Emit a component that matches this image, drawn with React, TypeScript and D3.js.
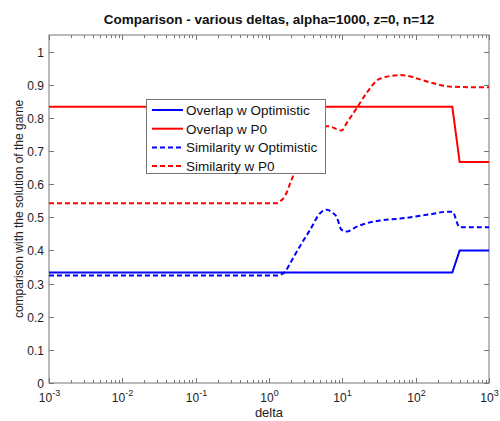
import * as d3 from 'd3';
import React from 'react';

// values
const overlapDelta = [0.001, 316, 398, 1000];
const overlapOptimistic = [0.3333, 0.3333, 0.4, 0.4];
const overlapP0 = [0.8333, 0.8333, 0.6667, 0.6667];

const simDelta = [0.001, 1.26, 1.41, 1.66, 1.95, 2.63, 3.63, 5.01, 6.17, 7.24, 8.32, 9.77, 11.5, 15.8, 21.4, 32.4, 61.7, 158, 275, 316, 398, 1000];
const simOptimistic = [0.324, 0.324, 0.326, 0.336, 0.362, 0.412, 0.462, 0.513, 0.523, 0.515, 0.502, 0.462, 0.457, 0.472, 0.482, 0.490, 0.496, 0.509, 0.517, 0.517, 0.470, 0.470];
const simP0 = [0.542, 0.542, 0.548, 0.565, 0.603, 0.675, 0.730, 0.768, 0.775, 0.772, 0.766, 0.762, 0.785, 0.830, 0.875, 0.918, 0.929, 0.907, 0.895, 0.894, 0.893, 0.892];

const xTickExp = [-3, -2, -1, 0, 1, 2, 3];
const yTicks = [0, 0.1, 0.2, 0.3, 0.4, 0.5, 0.6, 0.7, 0.8, 0.9, 1];

const legendItems = [
  { label: 'Overlap w Optimistic', color: '#0000ff', dash: '' },
  { label: 'Overlap w P0', color: '#ff0000', dash: '' },
  { label: 'Similarity w Optimistic', color: '#0000ff', dash: '5,3' },
  { label: 'Similarity w P0', color: '#ff0000', dash: '5,3' },
];

export default function App() {
  const width = 500;
  const height = 421;
  const left = 49, right = 489, top = 35, bottom = 383;

  const x = d3.scaleLog().domain([1e-3, 1e3]).range([left, right]);
  const y = d3.scaleLinear().domain([0, 1.05]).range([bottom, top]);

  const straight = d3.line<[number, number]>().x(d => x(d[0])).y(d => y(d[1]));
  const smooth = d3.line<[number, number]>().x(d => x(d[0])).y(d => y(d[1])).curve(d3.curveMonotoneX);

  const zip = (xs: number[], ys: number[]) => xs.map((v, i) => [v, ys[i]] as [number, number]);

  const minor: number[] = [];
  for (let e = -3; e < 3; e++) {
    for (let m = 2; m <= 9; m++) minor.push(m * Math.pow(10, e));
  }

  const font = 'Arial, "Liberation Sans", Helvetica, sans-serif';
  const axisColor = '#777';

  return (
    <svg width={width} height={height} style={{ position: 'absolute', left: 0, top: 0, background: '#fff' }} fontFamily={font}>
      <rect x={left} y={top} width={right - left} height={bottom - top} fill="#fff" stroke={axisColor} strokeWidth={1} />

      {/* x ticks */}
      {xTickExp.map(e => {
        const px = Math.round(x(Math.pow(10, e))) + 0.5;
        return (
          <g key={'xt' + e}>
            <line x1={px} x2={px} y1={bottom} y2={bottom - 5} stroke={axisColor} />
            <line x1={px} x2={px} y1={top} y2={top + 5} stroke={axisColor} />
            <text x={px} y={402} fontSize={12} textAnchor="middle" fill="#222">
              10<tspan fontSize={9} dy={-6}>{e}</tspan>
            </text>
          </g>
        );
      })}
      {minor.map((m, i) => {
        const px = Math.round(x(m)) + 0.5;
        return (
          <g key={'xm' + i}>
            <line x1={px} x2={px} y1={bottom} y2={bottom - 3} stroke={axisColor} />
            <line x1={px} x2={px} y1={top} y2={top + 3} stroke={axisColor} />
          </g>
        );
      })}

      {/* y ticks */}
      {yTicks.map(t => {
        const py = Math.round(y(t)) + 0.5;
        return (
          <g key={'yt' + t}>
            <line x1={left} x2={left + 5} y1={py} y2={py} stroke={axisColor} />
            <line x1={right} x2={right - 5} y1={py} y2={py} stroke={axisColor} />
            <text x={44} y={py + 4.5} fontSize={12} textAnchor="end" fill="#222">{String(t)}</text>
          </g>
        );
      })}

      {/* series */}
      <path d={straight(zip(overlapDelta, overlapOptimistic)) || ''} fill="none" stroke="#0000ff" strokeWidth={2} />
      <path d={straight(zip(overlapDelta, overlapP0)) || ''} fill="none" stroke="#ff0000" strokeWidth={2} />
      <path d={smooth(zip(simDelta, simOptimistic)) || ''} fill="none" stroke="#0000ff" strokeWidth={2} strokeDasharray="5,3" />
      <path d={smooth(zip(simDelta, simP0)) || ''} fill="none" stroke="#ff0000" strokeWidth={2} strokeDasharray="5,3" />

      {/* legend */}
      <g>
        <rect x={146.5} y={99.5} width={179} height={74} fill="#fff" stroke={axisColor} />
        {legendItems.map((it, i) => {
          const ly = 110 + i * 18.7;
          return (
            <g key={it.label}>
              <line x1={152} x2={183} y1={ly} y2={ly} stroke={it.color} strokeWidth={2} strokeDasharray={it.dash || undefined} />
              <text x={186} y={ly + 5} fontSize={13.5} fill="#111">{it.label}</text>
            </g>
          );
        })}
      </g>

      {/* titles */}
      <text x={269} y={24} fontSize={13.5} fontWeight="bold" textAnchor="middle" fill="#111">
        Comparison - various deltas, alpha=1000, z=0, n=12
      </text>
      <text x={269} y={417} fontSize={13} textAnchor="middle" fill="#222">delta</text>
      <text transform="translate(22.5,209) rotate(-90)" fontSize={12} textAnchor="middle" fill="#222">
        comparison with the solution of the game
      </text>
    </svg>
  );
}
